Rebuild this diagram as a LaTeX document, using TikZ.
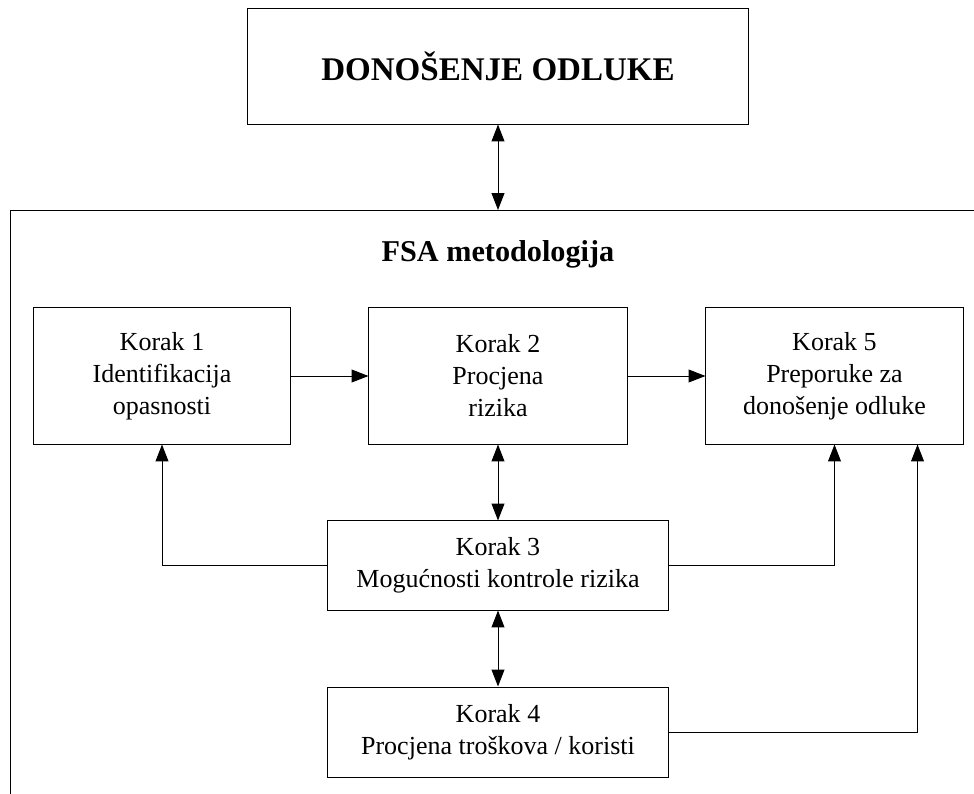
\documentclass[tikz,border=0pt]{standalone}
\usepackage{fontspec}
\setmainfont{Liberation Serif}
\usetikzlibrary{arrows.meta}
\begin{document}
\begin{tikzpicture}[x=0.025cm, y=-0.025cm, line width=0.7pt,
    >={Triangle[length=4.2mm,width=3.2mm]},
    korak/.style={draw, rectangle, align=center, inner sep=0pt,
      font=\fontsize{18.5}{22.8}\selectfont},
    naslov/.style={font=\bfseries\fontsize{21.5}{26}\selectfont}]
  \useasboundingbox (0,0) rectangle (974,794);

  \node[korak, minimum width=12.5cm, minimum height=2.875cm,
    font=\bfseries\fontsize{23.5}{27}\selectfont] (odluka) at (498,66.5) {DONOŠENJE ODLUKE};

  % okvir FSA metodologije
  \draw (10.7,794) -- (10.7,210) -- (974,210);
  \coordinate (okvir) at (498,210);
  \node[naslov] (fsa) at (498,254) {FSA metodologija};

  \node[korak, minimum width=6.4cm, minimum height=3.4cm] (k1) at (162,376) {Korak 1\\Identifikacija\\opasnosti};
  \node[korak, minimum width=6.45cm, minimum height=3.4cm] (k2) at (498,376) {Korak 2\\Procjena\\rizika};
  \node[korak, minimum width=6.425cm, minimum height=3.4cm] (k5) at (834.5,376) {Korak 5\\Preporuke za\\donošenje odluke};
  \node[korak, minimum width=8.5cm, minimum height=2.225cm] (k3) at (498,565.5) {Korak 3\\Mogućnosti kontrole rizika};
  \node[korak, minimum width=8.5cm, minimum height=2.25cm] (k4) at (498,732) {Korak 4\\Procjena troškova / koristi};

  \draw[<->] (odluka) -- (okvir);
  \draw[->] (k1) -- (k2);
  \draw[->] (k2) -- (k5);
  \draw[<->] (k2) -- (k3);
  \draw[<->] (k3) -- (k4);
  \draw[->] (k3.west) -| (k1.south);
  \draw[->] (k3.east) -| (k5.south);
  \draw[->] (k4.east) -| ([xshift=-1.15cm]k5.south east);
\end{tikzpicture}
\end{document}
